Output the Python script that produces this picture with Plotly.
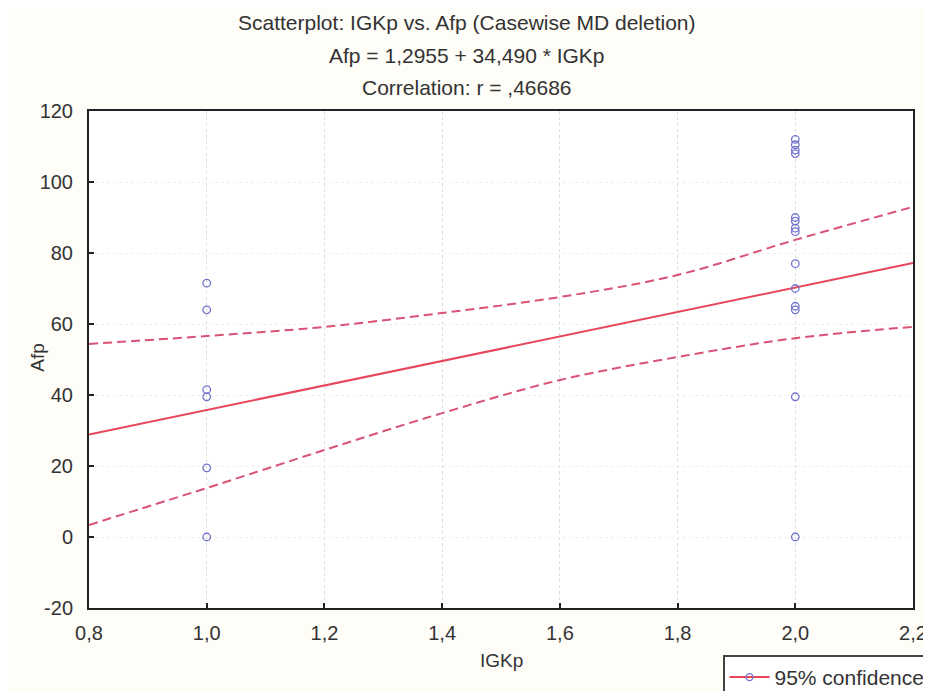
import plotly.graph_objects as go

# ---- data ----
igkp_x1 = [1.0, 1.0, 1.0, 1.0, 1.0, 1.0]
afp_x1 = [71.5, 64.0, 41.5, 39.5, 19.5, 0.0]
igkp_x2 = [2.0] * 14
afp_x2 = [112.0, 110.5, 109.0, 108.0, 90.0, 89.0, 87.0, 86.0, 77.0, 70.0, 65.0, 64.0, 39.5, 0.0]

# regression stated in title
intercept = 1.2955
slope = 34.490
fit_x = [0.8, 2.2]

# 95% confidence band
band_x = [0.8, 1.0, 1.2, 1.4, 1.6, 1.8, 2.0, 2.2]
band_upper = [54.4, 56.6, 59.2, 63.1, 67.6, 73.8, 83.7, 93.0]
band_lower = [3.4, 13.8, 24.5, 34.9, 44.2, 50.7, 56.0, 59.2]

x_ticks = [0.8, 1.0, 1.2, 1.4, 1.6, 1.8, 2.0, 2.2]
x_ticktext = ["0,8", "1,0", "1,2", "1,4", "1,6", "1,8", "2,0", "2,2"]
y_ticks = [-20, 0, 20, 40, 60, 80, 100, 120]
y_ticktext = ["-20", "0", "20", "40", "60", "80", "100", "120"]

title_lines = ["Scatterplot: IGKp vs. Afp (Casewise MD deletion)",
               "Afp = 1,2955 + 34,490 * IGKp",
               "Correlation: r = ,46686"]

FONT = "Liberation Sans, Arial, sans-serif"
PT_COLOR = "#7272cf"
FIT_COLOR = "#e8465a"
BAND_COLOR = "#da5275"

fig = go.Figure()

fig.add_trace(go.Scatter(x=band_x, y=band_upper, mode="lines",
                         line=dict(color=BAND_COLOR, width=2, dash="9px,5px", shape="spline", smoothing=1.0),
                         showlegend=False, hoverinfo="skip"))
fig.add_trace(go.Scatter(x=band_x, y=band_lower, mode="lines",
                         line=dict(color=BAND_COLOR, width=2, dash="9px,5px", shape="spline", smoothing=1.0),
                         showlegend=False, hoverinfo="skip"))
fig.add_trace(go.Scatter(x=fit_x, y=[intercept + slope * v for v in fit_x], mode="lines",
                         line=dict(color=FIT_COLOR, width=2),
                         showlegend=False))
fig.add_trace(go.Scatter(x=igkp_x1 + igkp_x2, y=afp_x1 + afp_x2, mode="markers",
                         marker=dict(symbol="circle-open", size=7.5, color=PT_COLOR, line=dict(width=1.3)),
                         showlegend=False))
# legend entry
fig.add_trace(go.Scatter(x=[None], y=[None], mode="lines+markers", name="95% confidence",
                         line=dict(color=FIT_COLOR, width=2),
                         marker=dict(symbol="circle-open", size=7, color=PT_COLOR, line=dict(width=1.3))))

# page has an 8px body margin: figure origin sits at (8, 8) of the screenshot
OFF = 8
W, H = 931, 691
L = 89 - OFF
T = 111 - OFF
R = W - (913 - OFF)
B = H - (608.5 - OFF)
pw, ph = W - L - R, H - T - B

def py_paper(py):  # screenshot pixel -> paper y
    return (H - B - (py - OFF)) / ph

def px_paper(px):  # screenshot pixel -> paper x
    return ((px - OFF) - L) / pw

annotations = []
for text, py in zip(title_lines, [22, 55, 87]):
    annotations.append(dict(text=text, x=px_paper(467), y=py_paper(py), xref="paper", yref="paper",
                            xanchor="center", yanchor="middle", showarrow=False,
                            font=dict(family=FONT, size=21, color="#333333")))
annotations.append(dict(text="IGKp", x=0.5, y=py_paper(661), xref="paper", yref="paper",
                        xanchor="center", yanchor="middle", showarrow=False,
                        font=dict(family=FONT, size=19, color="#333333")))
annotations.append(dict(text="Afp", x=px_paper(38), y=py_paper(358), xref="paper", yref="paper",
                        xanchor="center", yanchor="middle", showarrow=False, textangle=-90,
                        font=dict(family=FONT, size=19, color="#333333")))

fig.update_layout(
    width=W, height=H,
    margin=dict(l=L, r=R, t=T, b=B, autoexpand=False),
    paper_bgcolor="#fefdf8",
    plot_bgcolor="#ffffff",
    font=dict(family=FONT, size=20, color="#333333"),
    annotations=annotations,
    showlegend=True,
    legend=dict(x=px_paper(723), y=py_paper(656), xanchor="left", yanchor="top",
                bordercolor="#444444", borderwidth=1.5, bgcolor="#ffffff", itemwidth=40,
                font=dict(family=FONT, size=21, color="#333333")),
    xaxis=dict(range=[0.8, 2.2], tickvals=x_ticks, ticktext=x_ticktext,
               showline=True, mirror=True, linecolor="#222222", linewidth=2,
               ticks="inside", ticklen=5, tickcolor="#222222", tickwidth=1.5,
               showgrid=True, gridcolor="#dcdcdc", griddash="dot", gridwidth=1,
               zeroline=False, ticklabelstandoff=6),
    yaxis=dict(range=[-20, 120], tickvals=y_ticks, ticktext=y_ticktext,
               showline=True, mirror=True, linecolor="#222222", linewidth=2,
               ticks="inside", ticklen=5, tickcolor="#222222", tickwidth=1.5,
               showgrid=True, gridcolor="#eeeeee", griddash="dot", gridwidth=1,
               zeroline=False, ticklabelstandoff=10),
)

fig.write_html("out.html")
